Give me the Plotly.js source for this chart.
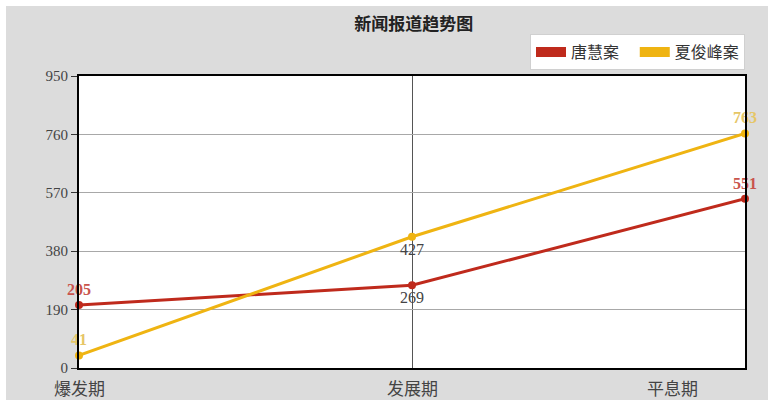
<!DOCTYPE html>
<html><head><meta charset="utf-8">
<script src="https://cdn.plot.ly/plotly-3.0.1.min.js"></script>
<style>
html,body{margin:0;padding:0;background:#fff;}
#chart{position:absolute;left:6px;top:6px;width:762px;height:394px;}
</style></head>
<body><div id="chart"></div>
<script>
const categories = ["爆发期", "发展期", "平息期"];
const seriesNames = ["唐慧案", "夏俊峰案"];
const tangHui = [205, 269, 551];
const xiaJunfeng = [41, 427, 763];
const yTicks = [0, 190, 380, 570, 760, 950];

const red = "#bf2a1c", yellow = "#efb412";
const font = "'Noto Sans CJK SC', 'Noto Sans', sans-serif";
const serif = "'Liberation Serif', 'DejaVu Serif', serif";

const traces = [
  {x: categories, y: tangHui, name: seriesNames[0], type: "scatter", mode: "lines+markers+text",
   showlegend: false, cliponaxis: false,
   line: {color: red, width: 3}, marker: {color: red, size: 8},
   text: tangHui.map(String), textposition: ["top center", "bottom center", "top center"],
   textfont: {family: serif, size: 16, color: ["#c9544c", "#444", "#c9544c"], weight: ["bold","normal","bold"]}},
  {x: categories, y: xiaJunfeng, name: seriesNames[1], type: "scatter", mode: "lines+markers+text",
   showlegend: false, cliponaxis: false,
   line: {color: yellow, width: 3}, marker: {color: yellow, size: 8},
   text: xiaJunfeng.map(String), textposition: ["top center", "bottom center", "top center"],
   textfont: {family: serif, size: 16, color: ["#e6c666", "#444", "#e6c666"], weight: ["bold","normal","bold"]}},
  {x: [categories[0]], y: [null], name: seriesNames[0] + "&nbsp;&nbsp;&nbsp;", type: "scatter", mode: "lines",
   line: {color: red, width: 10}, hoverinfo: "skip"},
  {x: [categories[0]], y: [null], name: seriesNames[1], type: "scatter", mode: "lines",
   line: {color: yellow, width: 10}, hoverinfo: "skip"}
];

const xLabelAnnotations = categories.map((c, i) => ({
  x: c, xref: "x", y: 0, yref: "paper", yanchor: "top", yshift: -5,
  xanchor: i === categories.length - 1 ? "right" : "center",
  xshift: i === categories.length - 1 ? -45 : 0,
  text: c, showarrow: false, font: {family: font, size: 17, color: "#444"}
}));

const layout = {
  width: 762, height: 394,
  paper_bgcolor: "#dcdcdc", plot_bgcolor: "#ffffff",
  margin: {l: 73, r: 23, t: 70, b: 32},
  title: {text: "<b>新闻报道趋势图</b>", x: 0.535, xanchor: "center", y: 0.955, yanchor: "middle",
          font: {family: font, size: 17, color: "#222"}},
  showlegend: true,
  legend: {orientation: "h", x: 1.0, xanchor: "right", y: 1.02, yanchor: "bottom",
           bgcolor: "#ffffff", bordercolor: "#d0d0d0", borderwidth: 1,
           font: {family: font, size: 16, color: "#333"}, itemwidth: 30, tracegroupgap: 0},
  annotations: xLabelAnnotations,
  xaxis: {type: "category", range: [0, 2], showgrid: true, gridcolor: "#555", gridwidth: 1,
          showline: true, linecolor: "#000", linewidth: 2, mirror: true,
          ticks: "", showticklabels: false, fixedrange: true},
  yaxis: {range: [0, 950], tickvals: yTicks, ticktext: yTicks.map(String),
          showgrid: true, gridcolor: "#a8a8a8", gridwidth: 1, zeroline: false,
          showline: true, linecolor: "#000", linewidth: 2, mirror: true,
          ticks: "outside", ticklen: 6, tickcolor: "#333", tickwidth: 1,
          tickfont: {family: serif, size: 15, color: "#444"}, fixedrange: true}
};

Plotly.newPlot("chart", traces, layout, {displayModeBar: false, staticPlot: true});
</script></body></html>
